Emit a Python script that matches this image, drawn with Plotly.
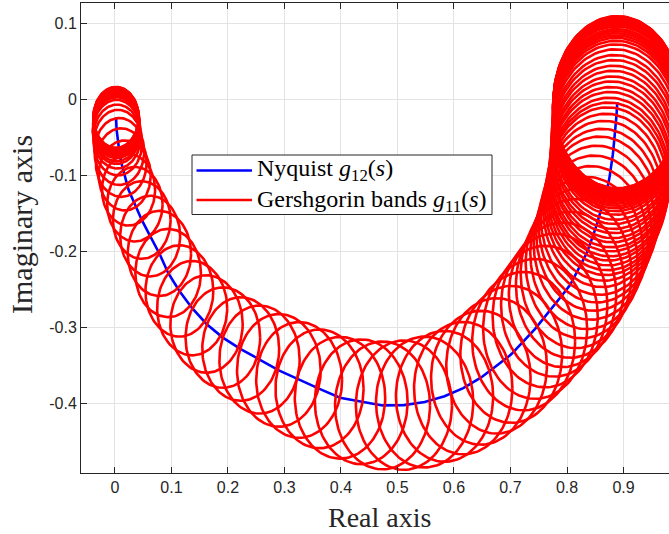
import numpy as np
import plotly.graph_objects as go

# Nyquist locus of g12(jw): real and imaginary parts at each frequency point
re_g12 = [
    0.8890, 0.8890, 0.8889, 0.8889, 0.8888, 0.8887, 0.8886, 0.8885, 0.8884, 0.8882,
    0.8881, 0.8879, 0.8877, 0.8875, 0.8872, 0.8870, 0.8867, 0.8864, 0.8860,
    0.8850, 0.8840, 0.8831, 0.8821, 0.8811, 0.8801,
    0.8788, 0.8774, 0.8761, 0.8747, 0.8733,
    0.8712, 0.8684, 0.8652, 0.8617,
    0.8576, 0.8528, 0.8476, 0.8420,
    0.8351, 0.8259, 0.8161, 0.8057,
    0.7921, 0.7774, 0.7614,
    0.7436, 0.7233, 0.7013,
    0.6754,
    0.6475, 0.6164,
    0.5833, 0.5481,
    0.5114,
    0.4736, 0.4359,
    0.3983, 0.3621, 0.3260,
    0.2901, 0.2559, 0.2226,
    0.1910, 0.1621,
    0.1367, 0.1141,
    0.0942, 0.0787,
    0.0624,
    0.0475, 0.0353, 0.0241,
    0.0173, 0.0112,
    0.0078, 0.0054, 0.0038,
    0.0030, 0.0029, 0.0028, 0.0027, 0.0026, 0.0025, 0.0024, 0.0023, 0.0022,
    0.0021, 0.0021, 0.0020, 0.0020,
]
im_g12 = [
    -0.0040, -0.0044, -0.0049, -0.0055, -0.0063, -0.0073, -0.0085, -0.0099, -0.0115, -0.0133,
    -0.0153, -0.0175, -0.0199, -0.0225, -0.0253, -0.0283, -0.0315, -0.0353, -0.0400,
    -0.0465, -0.0531, -0.0596, -0.0661, -0.0727, -0.0792,
    -0.0857, -0.0921, -0.0986, -0.1051, -0.1115,
    -0.1178, -0.1252, -0.1336, -0.1430,
    -0.1532, -0.1642, -0.1761, -0.1889,
    -0.2022, -0.2153, -0.2292, -0.2439,
    -0.2571, -0.2707, -0.2857,
    -0.3019, -0.3180, -0.3354,
    -0.3505,
    -0.3661, -0.3798,
    -0.3905, -0.3980,
    -0.4021,
    -0.4025, -0.3977,
    -0.3924, -0.3807, -0.3690,
    -0.3564, -0.3422, -0.3284,
    -0.3134, -0.2955,
    -0.2747, -0.2521,
    -0.2285, -0.2028,
    -0.1800,
    -0.1588, -0.1381, -0.1192,
    -0.1003, -0.0834,
    -0.0688, -0.0571, -0.0492,
    -0.0430, -0.0396, -0.0366, -0.0340, -0.0318, -0.0300, -0.0285, -0.0273, -0.0263,
    -0.0255, -0.0249, -0.0244, -0.0240,
]
# Gershgorin band radius from g11(jw) at the same frequency points
band_radius = [
    0.113, 0.113, 0.113, 0.113, 0.113, 0.113, 0.113, 0.113, 0.113, 0.113,
    0.113, 0.113, 0.112, 0.112, 0.112, 0.112, 0.112, 0.112, 0.112,
    0.112, 0.111, 0.111, 0.110, 0.110, 0.109,
    0.109, 0.108, 0.108, 0.107, 0.107,
    0.107, 0.106, 0.105, 0.104,
    0.104, 0.103, 0.102, 0.101,
    0.100, 0.099, 0.098, 0.096,
    0.095, 0.094, 0.093,
    0.092, 0.091, 0.090,
    0.089,
    0.088, 0.087,
    0.086, 0.086,
    0.085,
    0.084, 0.082,
    0.080, 0.078, 0.076,
    0.074, 0.071, 0.068,
    0.066, 0.064,
    0.062, 0.060,
    0.058, 0.056,
    0.053,
    0.051, 0.049, 0.047,
    0.046, 0.045,
    0.044, 0.043, 0.042,
    0.042, 0.042, 0.041, 0.041, 0.041, 0.041, 0.040, 0.040, 0.040,
    0.040, 0.040, 0.040, 0.040,
]
assert len(re_g12) == len(im_g12) == len(band_radius)

x_ticks = [0, 0.1, 0.2, 0.3, 0.4, 0.5, 0.6, 0.7, 0.8, 0.9]
x_tick_labels = ["0", "0.1", "0.2", "0.3", "0.4", "0.5", "0.6", "0.7", "0.8", "0.9"]
y_ticks = [-0.4, -0.3, -0.2, -0.1, 0, 0.1]
y_tick_labels = ["-0.4", "-0.3", "-0.2", "-0.1", "0", "0.1"]
legend_labels = ["Nyquist <i>g</i><sub>12</sub>(<i>s</i>)",
                 "Gershgorin bands <i>g</i><sub>11</sub>(<i>s</i>)"]
legend_colors = ["#0000ff", "#ff0000"]

W, H = 669, 534
ML, MR, MT, MB = 81, 0, 3, 61
PW, PH = W - ML - MR, H - MT - MB


def px_to_paper(px, py):
    return (px - ML) / PW, 1 - (py - MT) / PH


# one outline per frequency point, joined into a single trace
theta = np.linspace(0, 2 * np.pi, 121)
cx, cy = [], []
for xr, yi, r in zip(re_g12, im_g12, band_radius):
    cx.extend((xr + r * np.cos(theta)).tolist() + [None])
    cy.extend((yi + r * np.sin(theta)).tolist() + [None])

fig = go.Figure()
fig.add_trace(go.Scatter(x=re_g12, y=im_g12, mode="lines",
                         line=dict(color="#0000ff", width=2.6),
                         name="Nyquist", hoverinfo="skip", showlegend=False))
fig.add_trace(go.Scatter(x=cx, y=cy, mode="lines",
                         line=dict(color="#ff0000", width=2.6),
                         name="Gershgorin", hoverinfo="skip", showlegend=False))

axis_common = dict(
    showgrid=True, gridcolor="#e3e3e3", gridwidth=1,
    zeroline=False, showline=True, linecolor="#262626", linewidth=1,
    ticks="inside", ticklen=6, tickcolor="#262626", tickwidth=1,
    tickfont=dict(family="Liberation Sans, Arial, sans-serif", size=16, color="#262626"),
)

fig.update_xaxes(range=[-0.06, 0.9805], tickvals=x_ticks, ticktext=x_tick_labels,
                 mirror="ticks", **axis_common)
fig.update_yaxes(range=[-0.4913, 0.1263], tickvals=y_ticks, ticktext=y_tick_labels,
                 mirror=False, **axis_common)

serif = "Liberation Serif, Times New Roman, serif"
annotations = []
# axis titles
xt, yt = px_to_paper(379, 517)
annotations.append(dict(text="Real axis", x=xt, y=yt,
                        xref="paper", yref="paper", showarrow=False,
                        font=dict(family=serif, size=28, color="#262626"),
                        xanchor="center", yanchor="middle"))
xt, yt = px_to_paper(21, 225)
annotations.append(dict(text="Imaginary axis", x=xt, y=yt,
                        xref="paper", yref="paper", showarrow=False, textangle=-90,
                        font=dict(family=serif, size=30, color="#262626"),
                        xanchor="center", yanchor="middle"))

# legend box drawn by hand
bx0, by0 = px_to_paper(192, 155)
bx1, by1 = px_to_paper(492, 214.5)
shapes = [dict(type="rect", xref="paper", yref="paper", x0=bx0, y0=by1, x1=bx1, y1=by0,
               line=dict(color="#262626", width=1), fillcolor="white", layer="above")]
for color, py in zip(legend_colors, [170.5, 200]):
    lx0, ly = px_to_paper(196.5, py)
    lx1, _ = px_to_paper(252, py)
    shapes.append(dict(type="line", xref="paper", yref="paper", x0=lx0, x1=lx1, y0=ly, y1=ly,
                       line=dict(color=color, width=2.6), layer="above"))
tx, ty = px_to_paper(255.5, 185.2)
annotations.append(dict(text="<br>".join(legend_labels), x=tx, y=ty,
                        xref="paper", yref="paper", showarrow=False,
                        xanchor="left", yanchor="middle", align="left", borderpad=0,
                        font=dict(family=serif, size=24, color="black")))

fig.update_layout(
    width=W, height=H,
    margin=dict(l=ML, r=MR, t=MT, b=MB, pad=0),
    paper_bgcolor="white", plot_bgcolor="white",
    showlegend=False,
    shapes=shapes, annotations=annotations,
)

fig.write_html("out.html")
